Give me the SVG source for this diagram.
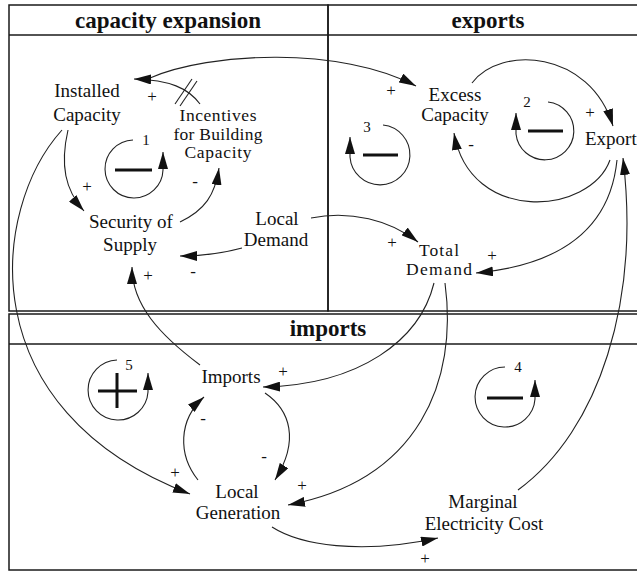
<svg xmlns="http://www.w3.org/2000/svg" width="637" height="571" viewBox="0 0 637 571">
<style>
.frame{fill:none;stroke:#1a1a1a;stroke-width:1.5}
.hdr{font-family:"Liberation Serif",serif;font-weight:bold;font-size:23px;fill:#111;text-anchor:middle}
.nd{font-family:"Liberation Serif",serif;font-size:19px;fill:#111;text-anchor:middle}
.nds{font-family:"Liberation Serif",serif;font-size:17.5px;fill:#111;text-anchor:middle}
.sg{font-family:"Liberation Serif",serif;font-size:17px;fill:#111;text-anchor:middle}
.num{font-family:"Liberation Serif",serif;font-size:15px;fill:#111;text-anchor:middle}
.ln{fill:none;stroke:#222;stroke-width:1.1}
.arr{marker-end:url(#ah)}
.bar{stroke:#111;stroke-width:3;fill:none}
</style>
<defs>
<marker id="ah" markerWidth="18" markerHeight="10" refX="17" refY="5" orient="auto" markerUnits="userSpaceOnUse">
<path d="M0,0 L17,5 L0,10 z" fill="#111"/>
</marker>
</defs>
<rect width="637" height="571" fill="#fff"/>
<g id="frames">
<rect class="frame" x="9" y="5" width="319" height="306"/>
<rect class="frame" x="328" y="5" width="320" height="306"/>
<line class="frame" x1="9" y1="35" x2="640" y2="35"/>
<rect class="frame" x="9" y="314" width="640" height="256"/>
<line class="frame" x1="9" y1="344" x2="640" y2="344"/>
<text class="hdr" x="168" y="28">capacity expansion</text>
<text class="hdr" x="488" y="28">exports</text>
<text class="hdr" x="328" y="336">imports</text>
</g>
<g id="connectors">
<path class="ln arr" d="M150,78 C210,52 340,46 416,86"/>
<path class="ln arr" d="M200,104 C188,88 170,80 134,79"/>
<line class="ln" x1="175" y1="104" x2="192" y2="79"/>
<line class="ln" x1="180" y1="106" x2="197" y2="81"/>
<path class="ln arr" d="M68,130 C60,165 65,190 84,211"/>
<path class="ln arr" d="M62,130 C-10,210 -30,410 190,494"/>
<path class="ln arr" d="M180,222 C205,210 215,195 219,168"/>
<path class="ln arr" d="M242,248 C220,254 200,256 180,256"/>
<path class="ln arr" d="M311,218 C350,210 390,220 418,242"/>
<path class="ln arr" d="M200,365 C160,335 132,305 132,267"/>
<path class="ln arr" d="M434,283 C420,340 360,385 263,387"/>
<path class="ln arr" d="M445,283 C458,380 420,480 288,505"/>
<path class="ln arr" d="M265,393 C290,410 300,440 275,480"/>
<path class="ln arr" d="M198,480 C178,455 178,420 204,397"/>
<path class="ln arr" d="M272,527 C300,545 360,555 438,538"/>
<path class="ln arr" d="M518,490 C600,430 640,300 623,158"/>
<path class="ln arr" d="M610,160 C590,215 470,225 454,133"/>
<path class="ln arr" d="M472,83 C500,45 590,50 613,126"/>
<path class="ln arr" d="M617,160 C610,230 560,265 476,273"/>
</g>
<g id="signs">
<text class="sg" x="152" y="102">+</text>
<text class="sg" x="391" y="96">+</text>
<text class="sg" x="87" y="192">+</text>
<text class="sg" x="195" y="187">-</text>
<text class="sg" x="193" y="277">-</text>
<text class="sg" x="148" y="281">+</text>
<text class="sg" x="392" y="248">+</text>
<text class="sg" x="492" y="261">+</text>
<text class="sg" x="471" y="150">-</text>
<text class="sg" x="590" y="118">+</text>
<text class="sg" x="283" y="377">+</text>
<text class="sg" x="203" y="424">-</text>
<text class="sg" x="264" y="462">-</text>
<text class="sg" x="175" y="478">+</text>
<text class="sg" x="302" y="491">+</text>
<text class="sg" x="425" y="564">+</text>
</g>
<g id="loop1">
<path class="ln arr" d="M133,140 A29,29 0 1,0 163,170 L163,152"/>
<line class="bar" x1="115" y1="170" x2="152" y2="170"/>
<text class="num" x="146" y="145">1</text>
</g>
<g id="loop2">
<path class="ln arr" d="M548,102 A29,29 0 1,1 516,134 L516,113"/>
<line class="bar" x1="528" y1="131" x2="563" y2="131"/>
<text class="num" x="527" y="107">2</text>
</g>
<g id="loop3">
<path class="ln arr" d="M383,125 A30,30 0 1,1 350,157 L350,137"/>
<line class="bar" x1="363" y1="155" x2="398" y2="155"/>
<text class="num" x="367" y="132">3</text>
</g>
<g id="loop4">
<path class="ln arr" d="M505,367 A30,30 0 1,0 535,399 L535,380"/>
<line class="bar" x1="487" y1="398" x2="523" y2="398"/>
<text class="num" x="518" y="372">4</text>
</g>
<g id="loop5">
<path class="ln arr" d="M117,360 A30,30 0 1,0 148,392 L148,373"/>
<line class="bar" x1="98" y1="391" x2="137" y2="391"/>
<line class="bar" x1="117" y1="373" x2="117" y2="408"/>
<text class="num" x="129" y="370">5</text>
</g>
<g id="installed-capacity"><text class="nd" x="87" y="97">Installed</text><text class="nd" x="87" y="121">Capacity</text></g>
<g id="incentives"><text class="nds" x="218" y="121" textLength="77">Incentives</text><text class="nds" x="218" y="139.5" textLength="89">for Building</text><text class="nds" x="218" y="158" textLength="67">Capacity</text></g>
<g id="security-of-supply"><text class="nd" x="131" y="228">Security of</text><text class="nd" x="130" y="251">Supply</text></g>
<g id="local-demand"><text class="nd" x="277" y="225">Local</text><text class="nd" x="276" y="246">Demand</text></g>
<g id="excess-capacity"><text class="nd" x="455" y="101">Excess</text><text class="nd" x="455" y="121">Capacity</text></g>
<g id="export"><text class="nd" x="585" y="145" style="text-anchor:start">Export</text></g>
<g id="total-demand"><text class="nds" x="439" y="256" textLength="40">Total</text><text class="nds" x="439" y="275" textLength="66">Demand</text></g>
<g id="imports"><text class="nd" x="231" y="383">Imports</text></g>
<g id="local-generation"><text class="nd" x="237" y="498">Local</text><text class="nd" x="238" y="519">Generation</text></g>
<g id="marginal-cost"><text class="nd" x="483" y="508">Marginal</text><text class="nd" x="484" y="530">Electricity Cost</text></g>
</svg>
